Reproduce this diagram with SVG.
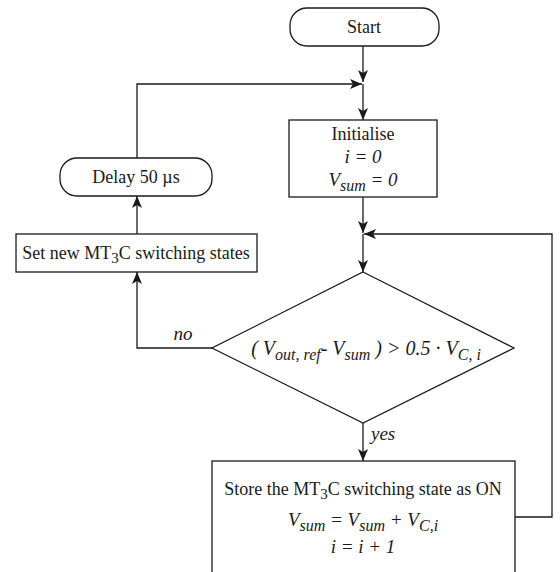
<svg xmlns="http://www.w3.org/2000/svg" width="560" height="572" viewBox="0 0 560 572">
<defs>
<marker id="ah" markerUnits="userSpaceOnUse" markerWidth="13" markerHeight="11" refX="12" refY="5" orient="auto">
<path d="M0,0 L12,5 L0,10 L3,5 z" fill="#1a1a1a"/>
</marker>
<style>
.box{fill:#fff;stroke:#1a1a1a;stroke-width:1.3}
.cn{fill:none;stroke:#1a1a1a;stroke-width:1.3}
.t{font-family:"Liberation Serif","Times New Roman",serif;font-size:18px;fill:#1a1a1a;text-anchor:middle}
.i{font-style:italic;font-size:19px}
.d{font-size:20px}
.sub{font-size:16px}
.s3{font-size:15px}
</style>
</defs>
<rect width="560" height="572" fill="#fff"/>
<g id="connectors">
<path class="cn" d="M363,46 L363,82" marker-end="url(#ah)"/>
<path class="cn" d="M363,84 L363,120" marker-end="url(#ah)"/>
<path class="cn" d="M363,197 L363,233" marker-end="url(#ah)"/>
<path class="cn" d="M363,234 L363,272" marker-end="url(#ah)"/>
<path class="cn" d="M515,517 L552,517 L552,234 L364,234" marker-end="url(#ah)"/>
<path class="cn" d="M213,348 L137,348 L137,272" marker-end="url(#ah)"/>
<path class="cn" d="M137,234 L137,196" marker-end="url(#ah)"/>
<path class="cn" d="M137,158 L137,84 L362,84" marker-end="url(#ah)"/>
<path class="cn" d="M363,423 L363,461" marker-end="url(#ah)"/>
<text class="t i" x="183" y="340">no</text>
<text class="t i" x="371" y="440" style="text-anchor:start">yes</text>
</g>
<g id="start">
<rect class="box" x="290" y="8" width="149" height="38" rx="17" ry="17"/>
<text class="t" x="364" y="33">Start</text>
</g>
<g id="init">
<rect class="box" x="289" y="120" width="148" height="77"/>
<text class="t" x="363" y="140">Initialise</text>
<text class="t i" x="363" y="163">i = 0</text>
<text class="t i" x="363" y="186">V<tspan class="sub" dy="5">sum</tspan><tspan dy="-5"> = 0</tspan></text>
</g>
<g id="delay">
<rect class="box" x="60" y="158" width="152" height="38" rx="17" ry="17"/>
<text class="t" x="136" y="183">Delay 50 µs</text>
</g>
<g id="set">
<rect class="box" x="16" y="234" width="241" height="38"/>
<text class="t" x="136" y="259">Set new MT<tspan class="s3" dy="4">3</tspan><tspan dy="-4">C switching states</tspan></text>
</g>
<g id="decision">
<polygon class="box" points="363,272 514,348 363,423 212,348"/>
<text class="t i d" x="366" y="355">( V<tspan class="sub" dy="5">out, ref</tspan><tspan dy="-5">- V</tspan><tspan class="sub" dy="5">sum</tspan><tspan dy="-5"> ) &gt; 0.5 · V</tspan><tspan class="sub" dy="5">C, i</tspan></text>
</g>
<g id="store">
<rect class="box" x="212" y="461" width="303" height="120"/>
<text class="t" x="363" y="495">Store the MT<tspan class="s3" dy="4">3</tspan><tspan dy="-4">C switching state as ON</tspan></text>
<text class="t i" x="363" y="526">V<tspan class="sub" dy="5">sum</tspan><tspan dy="-5"> = V</tspan><tspan class="sub" dy="5">sum</tspan><tspan dy="-5"> + V</tspan><tspan class="sub" dy="5">C,i</tspan></text>
<text class="t i" x="363" y="553">i = i + 1</text>
</g>
</svg>
